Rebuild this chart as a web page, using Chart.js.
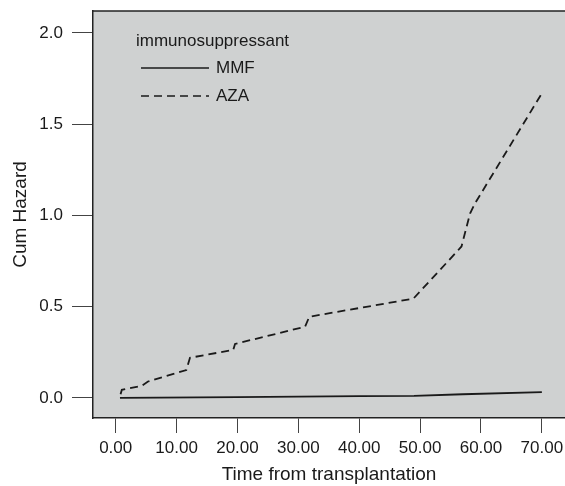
<!DOCTYPE html>
<html>
<head>
<meta charset="utf-8">
<script src="https://cdn.jsdelivr.net/npm/chart.js@4/dist/chart.umd.min.js"></script>
<style>
 body{margin:0;background:#fff}
 #wrap{width:565px;height:486px}
</style>
</head>
<body>
<div id="wrap"><canvas id="chart" width="565" height="486"></canvas></div>
<script>
// values
const mmfTime=[0.7,20,40,49,57,70];
const mmfHazard=[0.0,0.004,0.01,0.011,0.02,0.032];
const azaTime=[0.8,1.0,4.3,5.3,11.6,12.2,19.3,19.6,31.1,31.8,48.9,56.0,56.8,58.2,59.0,70.0];
const azaHazard=[0.02,0.044,0.067,0.09,0.153,0.22,0.263,0.296,0.39,0.445,0.544,0.80,0.83,1.01,1.065,1.669];
const xTicks=[0,10,20,30,40,50,60,70];
const yTicks=[0,0.5,1.0,1.5,2.0];
const legendTitle='immunosuppressant';

const FONT='"Liberation Sans", Arial, Helvetica, sans-serif';
const INK='#1a1a1a';

function pts(xs,ys){return xs.map((x,i)=>({x,y:ys[i]}))}
function noPad(s){s.paddingLeft=0;s.paddingRight=0;s.paddingTop=0;s.paddingBottom=0}

// grey panel + top border + legend inside the plot
const panel={
 id:'panel',
 beforeDraw(c){
  const {ctx,chartArea:a}=c;
  ctx.save();
  ctx.fillStyle='#cfd1d1';
  ctx.fillRect(a.left,a.top,a.right-a.left,a.bottom-a.top);
  ctx.restore();
 },
 afterDraw(c){
  const {ctx,chartArea:a}=c;
  ctx.save();
  ctx.strokeStyle='#222';ctx.lineWidth=1.5;
  ctx.beginPath();ctx.moveTo(a.left,a.top);ctx.lineTo(a.right,a.top);ctx.stroke();
  ctx.fillStyle=INK;ctx.font='17px '+FONT;ctx.textBaseline='middle';
  ctx.fillText(legendTitle,136,41);
  c.data.datasets.forEach((d,i)=>{
   const y=68+i*28;
   ctx.strokeStyle=d.borderColor;ctx.lineWidth=1.6;
   ctx.setLineDash(d.borderDash||[]);
   ctx.beginPath();ctx.moveTo(141,y);ctx.lineTo(209,y);ctx.stroke();
   ctx.setLineDash([]);
   ctx.fillText(d.label,216,y);
  });
  ctx.restore();
 }
};

new Chart(document.getElementById('chart'),{
 type:'line',
 data:{datasets:[
  {label:'MMF',data:pts(mmfTime,mmfHazard),borderColor:INK,borderWidth:1.8,pointRadius:0,tension:0},
  {label:'AZA',data:pts(azaTime,azaHazard),borderColor:INK,borderWidth:1.8,borderDash:[8,5],pointRadius:0,tension:0}
 ]},
 options:{
  responsive:false,animation:false,
  layout:{padding:{top:11,left:0,right:0,bottom:0}},
  plugins:{legend:{display:false},tooltip:{enabled:false}},
  scales:{
   x:{type:'linear',min:-3.73,max:73.8,
    afterBuildTicks:s=>{s.ticks=xTicks.map(v=>({value:v}))},
    afterFit:s=>{s.height=68;noPad(s)},
    grid:{drawOnChartArea:false,drawTicks:true,tickLength:15,tickColor:'#444',tickWidth:1},
    border:{display:true,color:'#222',width:1.5},
    ticks:{color:INK,font:{family:FONT,size:17},padding:5,maxRotation:0,autoSkip:false,callback:v=>v.toFixed(2)},
    title:{display:true,text:'Time from transplantation',color:INK,font:{family:FONT,size:19},padding:{top:0,bottom:0}}
   },
   y:{type:'linear',min:-0.11,max:2.12,
    afterBuildTicks:s=>{s.ticks=yTicks.map(v=>({value:v}))},
    afterFit:s=>{s.width=93;noPad(s)},
    grid:{drawOnChartArea:false,drawTicks:true,tickLength:21,tickColor:'#444',tickWidth:1},
    border:{display:true,color:'#222',width:1.5},
    ticks:{color:INK,font:{family:FONT,size:17},padding:9,callback:v=>v.toFixed(1)},
    title:{display:true,text:'Cum Hazard',color:INK,font:{family:FONT,size:19},padding:{top:9,bottom:0}}
   }
  }
 },
 plugins:[panel]
});
</script>
</body>
</html>
